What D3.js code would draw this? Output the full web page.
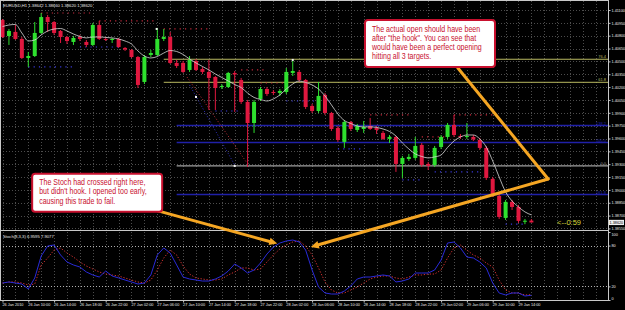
<!DOCTYPE html>
<html>
<head>
<meta charset="utf-8">
<script src="https://cdn.jsdelivr.net/npm/d3@7"></script>
<style>
html, body { margin: 0; padding: 0; background: #000; }
svg { display: block; }
text { font-family: "Liberation Sans", Arial, sans-serif; }
</style>
</head>
<body>
<svg id="chart" width="625" height="310"></svg>
<script>
// EURUSD H1, first bar = 26 Jan 2010 06:00
const timeLabels = ["26 Jan 2010", "26 Jan 10:00", "26 Jan 14:00", "26 Jan 18:00", "26 Jan 22:00",
  "27 Jan 02:00", "27 Jan 06:00", "27 Jan 10:00", "27 Jan 14:00", "27 Jan 18:00", "27 Jan 22:00",
  "28 Jan 02:00", "28 Jan 06:00", "28 Jan 10:00", "28 Jan 14:00", "28 Jan 18:00", "28 Jan 22:00",
  "29 Jan 02:00", "29 Jan 06:00", "29 Jan 10:00", "29 Jan 14:00"];

const priceTicks = [1.41100, 1.40950, 1.40800, 1.40650, 1.40500, 1.40350, 1.40200, 1.40050, 1.39900,
  1.39750, 1.39600, 1.39450, 1.39300, 1.39150, 1.39000, 1.38850, 1.38700, 1.38550];
const stochTicks = [100, 80, 20, 0];
const stochLevels = [80, 20];

const open = [1.40983,1.40797,1.40844,1.40762,1.40540,1.40563,1.40832,1.41018,1.40960,1.40855,
  1.40785,1.40727,1.40785,1.40727,1.40692,1.40925,1.40762,1.40750,1.40762,1.40657,
  1.40633,1.40551,1.40260,1.40575,1.40575,1.40762,1.40785,1.40482,1.40482,1.40400,
  1.40505,1.40412,1.40377,1.40318,1.40201,1.40201,1.40365,1.40283,1.40027,1.39781,
  1.40062,1.40178,1.40143,1.40132,1.40143,1.40365,1.40377,1.40283,1.39980,1.39921,
  1.40108,1.39898,1.39723,1.39560,1.39793,1.39700,1.39711,1.39746,1.39723,1.39665,
  1.39595,1.39618,1.39303,1.39361,1.39373,1.39525,1.39303,1.39291,1.39501,1.39618,
  1.39758,1.39630,1.39618,1.39618,1.39583,1.39490,1.39128,1.38930,1.38673,1.38860,
  1.38801,1.38638,1.38642];
const high = [1.40995,1.40878,1.40925,1.40785,1.40610,1.40960,1.41065,1.41042,1.40972,1.40867,
  1.40797,1.40797,1.40809,1.40750,1.40948,1.40972,1.40785,1.40774,1.40774,1.40668,
  1.40645,1.40563,1.40575,1.40633,1.40890,1.40878,1.40844,1.40517,1.40505,1.40563,
  1.40528,1.40435,1.40517,1.40330,1.40236,1.40377,1.40388,1.40307,1.40050,1.40050,
  1.40201,1.40201,1.40166,1.40178,1.40423,1.40517,1.40400,1.40295,1.40003,1.40260,
  1.40132,1.39910,1.39746,1.39816,1.39805,1.39770,1.39805,1.39840,1.39746,1.39688,
  1.39641,1.39630,1.39396,1.39420,1.39618,1.39548,1.39326,1.39513,1.39641,1.39781,
  1.39875,1.39653,1.39781,1.39641,1.39606,1.39513,1.39151,1.38953,1.38883,1.38883,
  1.38825,1.38661,1.38660];
const low = [1.40774,1.40692,1.40750,1.40528,1.40435,1.40551,1.40820,1.40844,1.40809,1.40715,
  1.40703,1.40692,1.40738,1.40668,1.40680,1.40750,1.40738,1.40715,1.40657,1.40622,
  1.40540,1.40190,1.40236,1.40551,1.40563,1.40738,1.40470,1.40423,1.40365,1.40377,
  1.40388,1.40353,1.39933,1.39933,1.40178,1.40190,1.39910,1.40003,1.39268,1.39665,
  1.40038,1.40097,1.40108,1.40097,1.40120,1.40330,1.40260,1.39945,1.39898,1.39898,
  1.39875,1.39688,1.39560,1.39490,1.39688,1.39676,1.39665,1.39700,1.39653,1.39583,
  1.39548,1.39210,1.39140,1.39338,1.39350,1.39268,1.39233,1.39268,1.39478,1.39595,
  1.39618,1.39595,1.39595,1.39571,1.39466,1.39116,1.38918,1.38661,1.38649,1.38766,
  1.38614,1.38600,1.38620];
const close = [1.40785,1.40855,1.40762,1.40540,1.40563,1.40832,1.41018,1.40960,1.40832,1.40785,
  1.40738,1.40774,1.40762,1.40692,1.40925,1.40762,1.40756,1.40762,1.40668,1.40639,
  1.40551,1.40225,1.40551,1.40598,1.40762,1.40785,1.40482,1.40447,1.40377,1.40517,
  1.40400,1.40377,1.40307,1.40190,1.40213,1.40365,1.40347,1.40027,1.39781,1.40027,
  1.40178,1.40120,1.40132,1.40155,1.40377,1.40388,1.40283,1.39968,1.39921,1.40097,
  1.39898,1.39711,1.39583,1.39793,1.39711,1.39746,1.39735,1.39711,1.39700,1.39595,
  1.39618,1.39303,1.39373,1.39385,1.39513,1.39291,1.39280,1.39490,1.39618,1.39758,
  1.39641,1.39618,1.39630,1.39589,1.39490,1.39140,1.38942,1.38684,1.38860,1.38801,
  1.38638,1.38640,1.38620];

// moving average (white line)
const ma = [1.40907,1.40925,1.40931,1.40832,1.40738,1.40750,1.40809,1.40855,1.40878,1.40884,
  1.40855,1.40820,1.40791,1.40774,1.40785,1.40785,1.40780,1.40774,1.40762,1.40738,
  1.40703,1.40622,1.40563,1.40540,1.40557,1.40598,1.40627,1.40616,1.40581,1.40528,
  1.40482,1.40441,1.40400,1.40353,1.40312,1.40271,1.40230,1.40195,1.40131,1.40079,
  1.40056,1.40038,1.40062,1.40108,1.40178,1.40236,1.40271,1.40254,1.40225,1.40178,
  1.40097,1.39992,1.39886,1.39810,1.39775,1.39746,1.39735,1.39735,1.39729,1.39711,
  1.39682,1.39630,1.39548,1.39478,1.39420,1.39390,1.39373,1.39385,1.39408,1.39496,
  1.39571,1.39618,1.39641,1.39641,1.39595,1.39501,1.39338,1.39151,1.38977,1.38871,
  1.38801,1.38743,1.38708];

// Stoch(8,3,3)
const stochMain = [25,26.5,25,23.5,16.2,32.4,64.7,79.4,80.9,66.2,
  55.9,51.5,48.5,41.2,36.8,33.8,42.6,35.3,32.4,29.4,
  26.5,23.5,25,36.8,66.2,76.5,69.1,51.5,33.8,30.9,
  29.4,27.9,27.9,30.9,35.3,42.6,52.9,47.1,39.7,44.1,
  54.4,67.6,77.9,83.8,86.8,88.2,85.3,73.5,44.1,19.1,
  10.3,8.8,8.8,13.2,20.6,30.9,33.8,33.8,35.3,36.8,
  35.3,26.5,27.9,30.9,39.7,39.7,39.7,44.1,58.8,83.8,
  85.3,76.5,63.2,61.8,55.9,47.1,25,10.3,7.4,10.3,
  10.3,5.9,6.96];
const stochSignal = [25,26.5,26.5,25,22.1,23.5,51.5,61.8,73.5,76.5,
  69.1,63.2,55.9,50,45.6,41.2,38.2,36.8,35.3,32.4,
  29.4,26.5,25,29.4,44.1,61.8,73.5,66.2,50,38.2,
  32.4,30.9,29.4,29.4,30.9,36.8,41.2,47.1,47.1,44.1,
  45.6,55.9,66.2,75,80.9,85.3,86.8,79.4,66.2,47.1,
  26.5,14.7,10.3,10.3,14.7,19.1,25,30.9,33.8,35.3,
  35.3,32.4,30.9,33.8,36.8,36.8,38.2,38.2,44.1,61.8,
  76.5,80.9,73.5,66.2,61.8,54.4,48.5,29.4,14.7,10.3,
  10.3,7.4,7.91];

// dotted support / resistance pieces: [fromBar, toBar, price]
const redDots = [[6, 14, 1.41065], [15, 24, 1.40972], [25, 32, 1.40879], [37, 41, 1.40400],
  [40, 44, 1.40248], [57, 63, 1.39875], [65, 69, 1.39618], [70, 76, 1.39875]];
const blueDots = [[4, 11, 1.40435], [12, 18, 1.40668], [33, 37, 1.39921], [44, 51, 1.40038],
  [52, 56, 1.39478], [62, 65, 1.39116], [67, 74, 1.39210], [78, 81, 1.38600]];

// fibonacci levels: [fromBar, price, label]
const fibYellow = [[25, 1.40525, "76.4"], [25, 1.40256, "61.8"]];
const fibBlue = [[27, 1.39751, "138.2"], [27, 1.39553, "100.0"], [27, 1.38946, "161.8"]];
const fibGrey = [[27, 1.39280, "0.0"]];
const fibTrend = [[28.6, 1.40318, 37.9, 1.39315, "#c0303a"], [29, 1.40225, 36, 1.39291, "#3030c0"]];
const anchors = [[23.9, 1.40879], [30, 1.40085], [36, 1.39280], [45, 1.40517]];

const W = 625, H = 310;
const plotRight = 608, mainBottom = 230, stochBottom = 300;
const bull = "#2ee02e", bear = "#e0183f";

const svg = d3.select("#chart");
svg.append("rect").attr("width", W).attr("height", H).attr("fill", "#000");

const x = d3.scaleLinear().domain([0, 82]).range([2.5, 2.5 + 6.45 * 82]);
const y = d3.scaleLinear().domain([1.3855, 1.411]).range([228.45, 10]);
const ys = d3.scaleLinear().domain([0, 100]).range([300, 232]);

// grid
const grid = svg.append("g").attr("stroke", "#4c4c4c").attr("stroke-dasharray", "1,2");
grid.selectAll("line.h").data(priceTicks).join("line")
  .attr("x1", 0).attr("x2", plotRight)
  .attr("y1", d => Math.round(y(d)) + 0.5).attr("y2", d => Math.round(y(d)) + 0.5);
grid.selectAll("line.v").data(d3.range(0, 94, 2).filter(i => x(i) < plotRight - 2)).join("line")
  .attr("x1", i => Math.round(x(i)) + 0.5).attr("x2", i => Math.round(x(i)) + 0.5)
  .attr("y1", 1).attr("y2", stochBottom);

svg.append("g").selectAll("line").data(stochLevels).join("line")
  .attr("x1", 0).attr("x2", plotRight)
  .attr("y1", d => Math.round(ys(d)) + 0.5).attr("y2", d => Math.round(ys(d)) + 0.5)
  .attr("stroke", "#b0b0b0").attr("stroke-dasharray", "1,2");

// fibonacci
const fib = svg.append("g");
function fibLines(data, color, w) {
  fib.append("g").selectAll("line").data(data).join("line")
    .attr("x1", d => x(d[0])).attr("x2", plotRight)
    .attr("y1", d => y(d[1])).attr("y2", d => y(d[1]))
    .attr("stroke", color).attr("stroke-width", w);
  fib.append("g").selectAll("text").data(data).join("text")
    .attr("x", plotRight - 2).attr("y", d => y(d[1]) - 1)
    .attr("text-anchor", "end").attr("font-size", 4)
    .attr("fill", color).text(d => d[2]);
}
fibLines(fibYellow, "#b8b860", 1);
fibLines(fibBlue, "#2020a8", 1.4);
fibLines(fibGrey, "#a0a0a0", 1.2);
fib.append("g").selectAll("line").data(fibTrend).join("line")
  .attr("x1", d => x(d[0])).attr("y1", d => y(d[1]))
  .attr("x2", d => x(d[2])).attr("y2", d => y(d[3]))
  .attr("stroke", d => d[4]).attr("stroke-dasharray", "1,2");

// dotted levels
function dotted(data, color) {
  svg.append("g").selectAll("line").data(data).join("line")
    .attr("x1", d => x(d[0])).attr("x2", d => x(d[1]))
    .attr("y1", d => y(d[2])).attr("y2", d => y(d[2]))
    .attr("stroke", color).attr("stroke-width", 1.2).attr("stroke-dasharray", "1.2,4.1");
}
dotted(redDots, "#c8283c");
dotted(blueDots, "#3a3ae0");

// candles
const idx = d3.range(open.length);
const col = i => close[i] >= open[i] ? bull : bear;
const candles = svg.append("g");
candles.selectAll("line").data(idx).join("line")
  .attr("x1", i => x(i)).attr("x2", i => x(i))
  .attr("y1", i => y(high[i])).attr("y2", i => y(low[i]))
  .attr("stroke", col);
candles.selectAll("rect").data(idx).join("rect")
  .attr("x", i => x(i) - 2).attr("width", 4)
  .attr("y", i => y(Math.max(open[i], close[i])))
  .attr("height", i => Math.max(1, Math.abs(y(open[i]) - y(close[i]))))
  .attr("fill", col);

// moving average
svg.append("path").datum(idx)
  .attr("d", d3.line().x(i => x(i)).y(i => y(ma[i])).curve(d3.curveMonotoneX))
  .attr("fill", "none").attr("stroke", "#d8d8d8").attr("stroke-width", 0.8);

// fib anchor points
svg.append("g").selectAll("rect").data(anchors).join("rect")
  .attr("x", d => x(d[0]) - 1).attr("y", d => y(d[1]) - 1).attr("width", 2).attr("height", 2)
  .attr("fill", "#f4f4f4");

// stochastic
svg.append("path").datum(idx)
  .attr("d", d3.line().x(i => x(i)).y(i => ys(stochSignal[i])))
  .attr("fill", "none").attr("stroke", "#d03030").attr("stroke-width", 1)
  .attr("stroke-dasharray", "1.3,1.7");
svg.append("path").datum(idx)
  .attr("d", d3.line().x(i => x(i)).y(i => ys(stochMain[i])))
  .attr("fill", "none").attr("stroke", "#2a2ad8").attr("stroke-width", 1);

// frame
const frame = svg.append("g").attr("stroke", "#c8c8c8").attr("fill", "none");
frame.append("rect").attr("x", 0.5).attr("y", 0.5).attr("width", plotRight).attr("height", stochBottom);
frame.append("line").attr("x1", 0).attr("x2", plotRight).attr("y1", mainBottom + 0.5).attr("y2", mainBottom + 0.5);

// axes
function styleAxis(g) {
  g.select(".domain").remove();
  g.selectAll("line").attr("stroke", "#c8c8c8");
  g.selectAll("text").attr("fill", "#e8e8e8").attr("font-size", 3.8)
    .attr("font-family", "Liberation Sans, Arial, sans-serif");
}
svg.append("g").attr("transform", `translate(${plotRight + 0.5},0)`)
  .call(d3.axisRight(y).tickValues(priceTicks).tickFormat(d3.format(".5f")).tickSize(2).tickPadding(1))
  .call(styleAxis);
svg.append("g").attr("transform", `translate(${plotRight + 0.5},0)`)
  .call(d3.axisRight(ys).tickValues(stochTicks).tickSize(2).tickPadding(1))
  .call(styleAxis)
  .selectAll("text").attr("dy", (d) => d === 100 ? "0.9em" : d === 0 ? "-0.1em" : "0.32em");
svg.append("g").attr("transform", `translate(0,${stochBottom + 0.5})`)
  .call(d3.axisBottom(x).tickValues(d3.range(0, 81, 4)).tickFormat(i => timeLabels[i / 4]).tickSize(2).tickPadding(1))
  .call(styleAxis)
  .selectAll("text").attr("text-anchor", "start").attr("dx", "-0.5");

// current price
const last = close[close.length - 1];
svg.append("rect").attr("x", plotRight + 1).attr("y", y(last) - 2.6).attr("width", 15).attr("height", 5.2)
  .attr("fill", "#f0f0f0");
svg.append("text").attr("x", plotRight + 1.5).attr("y", y(last) + 1.4).attr("font-size", 3.8)
  .attr("fill", "#000").text(d3.format(".5f")(last));
svg.append("text").attr("x", 557).attr("y", y(last) + 2.5).attr("font-size", 7.5)
  .attr("fill", "#d8d83a").text("<--0:59");

// headers
svg.append("text").attr("x", 3).attr("y", 7).attr("font-size", 4.2).attr("fill", "#e8e8e8")
  .text(`EURUSD,H1 ${open[82].toFixed(5)} ${high[82].toFixed(5)} ${low[82].toFixed(5)} ${close[82].toFixed(5)}`);
svg.append("text").attr("x", 3).attr("y", 237.5).attr("font-size", 4.2).attr("fill", "#e8e8e8")
  .text("Stoch(8,3,3) 6.9595 7.9077");

// annotations (anchored to bar / price / stoch values)
const orange = "#f5a623";
const pt = a => [x(a.b), a.p !== undefined ? y(a.p) : ys(a.s)];
const vertex = {b: 84.6, p: 1.39128};
const arrows = [
  {from: {b: 21.3, p: 1.38813}, to: {b: 42.6, s: 83}, head: true},
  {from: vertex, to: {b: 47.8, s: 78}, head: true},
  {from: {b: 70.6, p: 1.40423}, to: vertex, head: false}
];
const ann = svg.append("g");
arrows.forEach(a => {
  const [x0, y0] = pt(a.from), [x1, y1] = pt(a.to);
  const ang = Math.atan2(y1 - y0, x1 - x0), L = 8, Wd = 3.8;
  const bx = x1 - L * Math.cos(ang), by = y1 - L * Math.sin(ang);
  ann.append("line").attr("x1", x0).attr("y1", y0)
    .attr("x2", a.head ? bx : x1).attr("y2", a.head ? by : y1)
    .attr("stroke", orange).attr("stroke-width", 3).attr("stroke-linecap", "round");
  if (a.head) {
    const nx = -Math.sin(ang) * Wd, ny = Math.cos(ang) * Wd;
    ann.append("path").attr("d", `M${x1},${y1}L${bx + nx},${by + ny}L${bx - nx},${by - ny}Z`)
      .attr("fill", orange);
  }
});

const notes = [
  {b: 56.2, p: 1.40983, w: 130, h: 47, lines: ["The actual open should have been",
    "after \"the hook\". You can see that", "would have been a perfect opening", "hitting all 3 targets."]},
  {b: 4.6, p: 1.39188, w: 130, h: 38, lines: ["The Stoch had crossed right here,",
    "but didn't hook. I opened too early,", "causing this trade to fail."]}
];
notes.forEach(n => {
  const [nx, ny] = pt(n);
  const g = ann.append("g").attr("transform", `translate(${nx},${ny})`);
  g.append("rect").attr("width", n.w).attr("height", n.h).attr("rx", 3)
    .attr("fill", "#fff").attr("stroke", "#c8102e").attr("stroke-width", 2);
  g.append("g").attr("transform", "translate(7,0) scale(0.84,1)")
    .append("text").attr("font-size", 8.4).attr("fill", "#c8102e")
    .selectAll("tspan").data(n.lines).join("tspan")
    .attr("x", 0).attr("y", (d, i) => 11.5 + i * 9.2).text(d => d);
});
</script>
</body>
</html>
